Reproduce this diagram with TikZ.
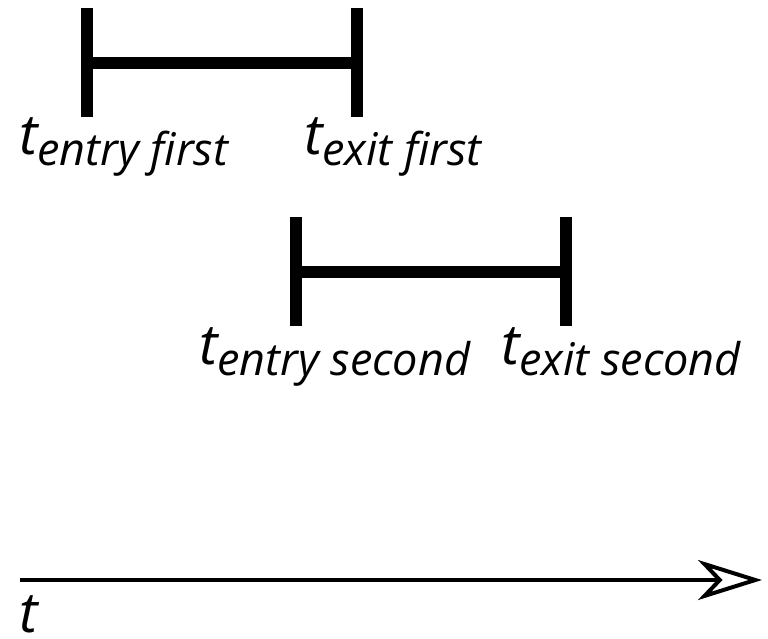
\documentclass[tikz,border=0pt]{standalone}
\usepackage{fontspec}
\setmainfont{Open Sans}
\usetikzlibrary{arrows.meta}
\newcommand{\tlab}[1]{{\fontsize{56}{56}\selectfont\itshape t}\raisebox{-11pt}{\fontsize{45}{45}\selectfont\itshape #1}}
\tikzset{
  bar/.style={line width=12pt},
  lab/.style={anchor=base west, inner sep=0pt, outer sep=0pt},
  axis/.style={line width=4pt, -{Stealth[open, length=64pt, width=40pt, inset=19pt]}}
}
\begin{document}
\begin{tikzpicture}[x=1pt,y=-1pt]
\useasboundingbox (0,0) rectangle (768,638);
% first interval
\coordinate (a1t) at (87,8);
\coordinate (a1b) at (87,117);
\coordinate (a2t) at (356.5,8);
\coordinate (a2b) at (356.5,117);
\coordinate (a1m) at (87,63);
\coordinate (a2m) at (356.5,63);
\draw[bar] (a1t) -- (a1b);
\draw[bar] (a2t) -- (a2b);
\draw[bar] (a1m) -- (a2m);
% second interval
\coordinate (b1t) at (295.5,217);
\coordinate (b1b) at (295.5,326);
\coordinate (b2t) at (565.5,217);
\coordinate (b2b) at (565.5,326);
\coordinate (b1m) at (295.5,271.5);
\coordinate (b2m) at (565.5,271.5);
\draw[bar] (b1t) -- (b1b);
\draw[bar] (b2t) -- (b2b);
\draw[bar] (b1m) -- (b2m);
% labels
\node[lab] (l1) at (19,154) {\tlab{entry first}};
\node[lab] (l2) at (304,154) {\tlab{exit first}};
\node[lab] (l3) at (199,364) {\tlab{entry second}};
\node[lab] (l4) at (501,364) {\tlab{exit second}};
% axis
\coordinate (ax0) at (20,580);
\coordinate (ax1) at (762,580);
\draw[axis] (ax0) -- (ax1);
\node[lab] (tl) at (19,632) {\fontsize{56}{56}\selectfont\itshape t};
\end{tikzpicture}
\end{document}
